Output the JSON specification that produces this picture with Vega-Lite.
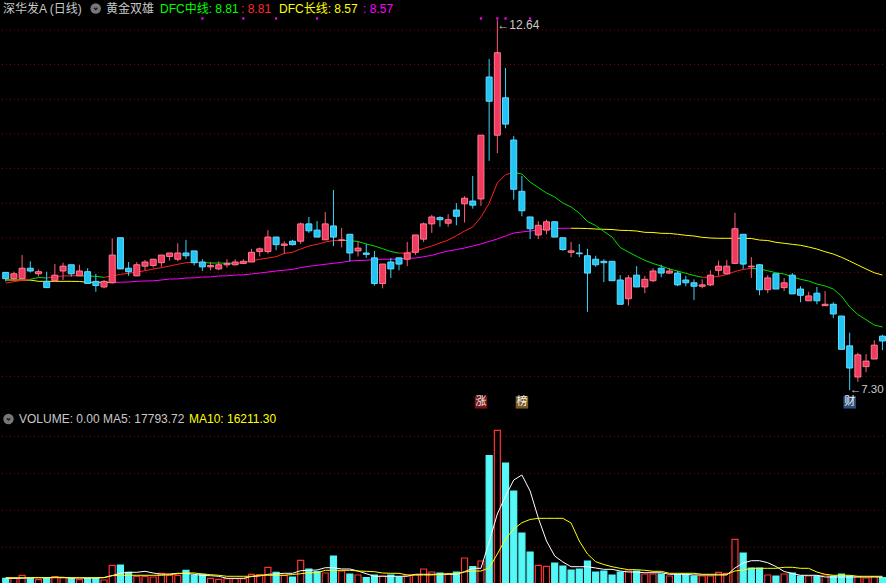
{
"$schema":"https://vega.github.io/schema/vega-lite/v6.json",
"background":"#000000",
"padding":0,
"spacing":0,
"config":{"view":{"stroke":null},"concat":{"spacing":0},"scale":{"continuousPadding":0}},
"datasets":{
"k":[
{"i":0,"o":9.00,"c":8.91,"h":9.00,"l":8.87,"v":15400,"a5":15400,"a10":17100,"mr":8.847,"mg":null,"ly":8.890,"lm":null},
{"i":1,"o":8.91,"c":8.98,"h":9.01,"l":8.88,"v":15400,"a5":15400,"a10":17100,"mr":8.865,"mg":null,"ly":8.890,"lm":null},
{"i":2,"o":8.91,"c":9.06,"h":9.25,"l":8.91,"v":23600,"a5":15400,"a10":17100,"mr":8.886,"mg":null,"ly":8.890,"lm":null},
{"i":3,"o":9.06,"c":9.02,"h":9.16,"l":9.00,"v":14400,"a5":17100,"a10":17100,"mr":8.900,"mg":8.900,"ly":8.888,"lm":null},
{"i":4,"o":8.98,"c":9.01,"h":9.04,"l":8.94,"v":11700,"a5":17100,"a10":17100,"mr":null,"mg":8.926,"ly":8.871,"lm":null},
{"i":5,"o":8.87,"c":8.78,"h":9.01,"l":8.78,"v":15400,"a5":17100,"a10":17100,"mr":8.919,"mg":8.919,"ly":8.871,"lm":null},
{"i":6,"o":8.88,"c":8.96,"h":9.12,"l":8.87,"v":19800,"a5":18200,"a10":17100,"mr":8.938,"mg":null,"ly":8.871,"lm":null},
{"i":7,"o":9.02,"c":9.09,"h":9.14,"l":8.89,"v":17100,"a5":18200,"a10":17100,"mr":8.948,"mg":null,"ly":8.871,"lm":null},
{"i":8,"o":9.11,"c":8.98,"h":9.11,"l":8.94,"v":15400,"a5":16300,"a10":17100,"mr":8.951,"mg":null,"ly":8.871,"lm":null},
{"i":9,"o":8.95,"c":9.02,"h":9.11,"l":8.95,"v":11700,"a5":16300,"a10":17100,"mr":8.952,"mg":8.952,"ly":8.869,"lm":null},
{"i":10,"o":9.01,"c":8.84,"h":9.06,"l":8.84,"v":15400,"a5":16300,"a10":17100,"mr":null,"mg":8.948,"ly":8.857,"lm":null},
{"i":11,"o":8.87,"c":8.81,"h":8.98,"l":8.72,"v":15400,"a5":16300,"a10":17100,"mr":null,"mg":8.943,"ly":8.857,"lm":null},
{"i":12,"o":8.79,"c":8.87,"h":8.89,"l":8.77,"v":10800,"a5":17600,"a10":17100,"mr":8.929,"mg":8.929,"ly":8.857,"lm":null},
{"i":13,"o":8.85,"c":9.25,"h":9.49,"l":8.84,"v":50700,"a5":23000,"a10":22500,"mr":8.948,"mg":null,"ly":8.857,"lm":8.857},
{"i":14,"o":9.50,"c":9.05,"h":9.50,"l":9.05,"v":51500,"a5":29000,"a10":23600,"mr":8.972,"mg":null,"ly":null,"lm":8.858},
{"i":15,"o":9.06,"c":9.01,"h":9.15,"l":8.95,"v":31700,"a5":31700,"a10":23600,"mr":8.987,"mg":null,"ly":null,"lm":8.861},
{"i":16,"o":8.95,"c":9.11,"h":9.15,"l":8.95,"v":20900,"a5":31700,"a10":23600,"mr":9.005,"mg":null,"ly":null,"lm":8.871},
{"i":17,"o":9.09,"c":9.15,"h":9.18,"l":9.03,"v":20900,"a5":34400,"a10":23600,"mr":9.024,"mg":null,"ly":null,"lm":8.876},
{"i":18,"o":9.10,"c":9.19,"h":9.19,"l":9.07,"v":19000,"a5":29800,"a10":23600,"mr":9.049,"mg":null,"ly":null,"lm":8.878},
{"i":19,"o":9.14,"c":9.25,"h":9.25,"l":9.08,"v":29000,"a5":26300,"a10":23600,"mr":9.068,"mg":null,"ly":null,"lm":8.890},
{"i":20,"o":9.23,"c":9.28,"h":9.28,"l":9.17,"v":23600,"a5":27100,"a10":25200,"mr":9.092,"mg":null,"ly":null,"lm":8.904},
{"i":21,"o":9.19,"c":9.28,"h":9.42,"l":9.16,"v":23600,"a5":29000,"a10":27900,"mr":9.117,"mg":null,"ly":null,"lm":8.906},
{"i":22,"o":9.28,"c":9.24,"h":9.47,"l":9.19,"v":37100,"a5":28500,"a10":29800,"mr":9.140,"mg":null,"ly":null,"lm":8.919},
{"i":23,"o":9.31,"c":9.14,"h":9.31,"l":9.10,"v":23600,"a5":26300,"a10":29800,"mr":9.143,"mg":null,"ly":null,"lm":8.921},
{"i":24,"o":9.15,"c":9.08,"h":9.19,"l":9.02,"v":26300,"a5":23000,"a10":27100,"mr":9.144,"mg":9.144,"ly":null,"lm":8.933},
{"i":25,"o":9.08,"c":9.10,"h":9.15,"l":9.03,"v":15400,"a5":22500,"a10":25200,"mr":null,"mg":9.135,"ly":null,"lm":8.935},
{"i":26,"o":9.05,"c":9.11,"h":9.16,"l":9.03,"v":12700,"a5":20900,"a10":23600,"mr":null,"mg":9.135,"ly":null,"lm":8.948},
{"i":27,"o":9.11,"c":9.13,"h":9.19,"l":9.07,"v":14400,"a5":15400,"a10":20900,"mr":null,"mg":9.134,"ly":null,"lm":8.950},
{"i":28,"o":9.11,"c":9.15,"h":9.19,"l":9.10,"v":14400,"a5":15400,"a10":20900,"mr":9.131,"mg":9.131,"ly":null,"lm":8.962},
{"i":29,"o":9.13,"c":9.16,"h":9.19,"l":9.12,"v":14400,"a5":15400,"a10":20900,"mr":9.140,"mg":null,"ly":null,"lm":8.964},
{"i":30,"o":9.15,"c":9.29,"h":9.34,"l":9.15,"v":26300,"a5":20300,"a10":20900,"mr":9.164,"mg":null,"ly":null,"lm":8.977},
{"i":31,"o":9.30,"c":9.34,"h":9.36,"l":9.23,"v":25200,"a5":21700,"a10":23600,"mr":9.189,"mg":null,"ly":null,"lm":8.991},
{"i":32,"o":9.30,"c":9.51,"h":9.61,"l":9.27,"v":45300,"a5":26300,"a10":23600,"mr":9.207,"mg":null,"ly":null,"lm":9.005},
{"i":33,"o":9.51,"c":9.40,"h":9.51,"l":9.32,"v":31700,"a5":27100,"a10":23600,"mr":9.226,"mg":null,"ly":null,"lm":9.020},
{"i":34,"o":9.39,"c":9.41,"h":9.45,"l":9.27,"v":23600,"a5":29000,"a10":23600,"mr":9.274,"mg":null,"ly":null,"lm":9.031},
{"i":35,"o":9.45,"c":9.40,"h":9.47,"l":9.39,"v":19000,"a5":29000,"a10":25700,"mr":9.290,"mg":null,"ly":null,"lm":9.044},
{"i":36,"o":9.45,"c":9.70,"h":9.72,"l":9.41,"v":64200,"a5":36000,"a10":27900,"mr":9.337,"mg":null,"ly":null,"lm":9.068},
{"i":37,"o":9.70,"c":9.60,"h":9.80,"l":9.57,"v":40700,"a5":37100,"a10":30600,"mr":9.381,"mg":null,"ly":null,"lm":9.088},
{"i":38,"o":9.61,"c":9.51,"h":9.74,"l":9.51,"v":33300,"a5":37900,"a10":30600,"mr":9.405,"mg":null,"ly":null,"lm":9.102},
{"i":39,"o":9.47,"c":9.70,"h":9.87,"l":9.47,"v":29800,"a5":44200,"a10":37100,"mr":9.438,"mg":null,"ly":null,"lm":9.117},
{"i":40,"o":9.67,"c":9.51,"h":10.19,"l":9.38,"v":75900,"a5":44200,"a10":37100,"mr":9.460,"mg":null,"ly":null,"lm":9.131},
{"i":41,"o":9.46,"c":9.47,"h":9.64,"l":9.36,"v":35200,"a5":40700,"a10":37100,"mr":9.463,"mg":9.463,"ly":null,"lm":9.145},
{"i":42,"o":9.55,"c":9.28,"h":9.55,"l":9.16,"v":27100,"a5":40700,"a10":37100,"mr":null,"mg":9.457,"ly":null,"lm":9.164},
{"i":43,"o":9.31,"c":9.35,"h":9.45,"l":9.23,"v":24400,"a5":35200,"a10":35200,"mr":null,"mg":9.446,"ly":null,"lm":9.172},
{"i":44,"o":9.28,"c":9.26,"h":9.41,"l":9.21,"v":17100,"a5":27900,"a10":34400,"mr":null,"mg":9.410,"ly":null,"lm":9.175},
{"i":45,"o":9.21,"c":8.84,"h":9.31,"l":8.81,"v":24400,"a5":20900,"a10":33300,"mr":null,"mg":9.381,"ly":null,"lm":9.186},
{"i":46,"o":8.84,"c":9.12,"h":9.12,"l":8.77,"v":21700,"a5":20900,"a10":29800,"mr":null,"mg":9.342,"ly":null,"lm":9.189},
{"i":47,"o":9.15,"c":9.05,"h":9.21,"l":8.92,"v":24400,"a5":20900,"a10":29000,"mr":null,"mg":9.301,"ly":null,"lm":9.190},
{"i":48,"o":9.21,"c":9.12,"h":9.21,"l":9.03,"v":19000,"a5":20900,"a10":29000,"mr":9.278,"mg":9.278,"ly":null,"lm":9.193},
{"i":49,"o":9.19,"c":9.28,"h":9.44,"l":9.09,"v":24400,"a5":20900,"a10":24400,"mr":9.280,"mg":null,"ly":null,"lm":9.203},
{"i":50,"o":9.29,"c":9.54,"h":9.54,"l":9.25,"v":24400,"a5":26300,"a10":24400,"mr":9.308,"mg":null,"ly":null,"lm":9.207},
{"i":51,"o":9.48,"c":9.70,"h":9.72,"l":9.44,"v":40700,"a5":26300,"a10":24400,"mr":9.345,"mg":null,"ly":null,"lm":9.226},
{"i":52,"o":9.70,"c":9.80,"h":9.83,"l":9.57,"v":32500,"a5":26300,"a10":24400,"mr":9.381,"mg":null,"ly":null,"lm":9.246},
{"i":53,"o":9.79,"c":9.76,"h":9.81,"l":9.66,"v":29800,"a5":26300,"a10":26300,"mr":9.424,"mg":null,"ly":null,"lm":9.280},
{"i":54,"o":9.71,"c":9.76,"h":9.84,"l":9.66,"v":27100,"a5":26300,"a10":27900,"mr":9.467,"mg":null,"ly":null,"lm":9.308},
{"i":55,"o":9.90,"c":9.81,"h":10.00,"l":9.68,"v":32500,"a5":26300,"a10":27900,"mr":9.529,"mg":null,"ly":null,"lm":9.330},
{"i":56,"o":9.99,"c":10.07,"h":10.10,"l":9.72,"v":70500,"a5":33300,"a10":32500,"mr":9.597,"mg":null,"ly":null,"lm":9.352},
{"i":57,"o":10.03,"c":9.97,"h":10.39,"l":9.92,"v":46900,"a5":42500,"a10":35200,"mr":9.655,"mg":null,"ly":null,"lm":9.381},
{"i":58,"o":10.06,"c":10.98,"h":10.98,"l":9.96,"v":62300,"a5":42500,"a10":35200,"mr":9.799,"mg":null,"ly":null,"lm":9.410},
{"i":59,"o":11.82,"c":11.47,"h":12.08,"l":10.61,"v":347700,"a5":113800,"a10":43400,"mr":9.997,"mg":null,"ly":null,"lm":9.446},
{"i":60,"o":10.98,"c":12.17,"h":12.64,"l":10.72,"v":416500,"a5":189700,"a10":81300,"mr":10.290,"mg":null,"ly":null,"lm":9.482},
{"i":61,"o":11.52,"c":11.14,"h":11.95,"l":11.08,"v":327900,"a5":238500,"a10":122000,"mr":10.410,"mg":null,"ly":null,"lm":9.525},
{"i":62,"o":10.91,"c":10.20,"h":10.97,"l":10.05,"v":252000,"a5":281800,"a10":149100,"mr":10.444,"mg":10.444,"ly":null,"lm":9.568},
{"i":63,"o":10.17,"c":9.89,"h":10.39,"l":9.81,"v":138200,"a5":295400,"a10":166100,"mr":null,"mg":10.420,"ly":null,"lm":9.583},
{"i":64,"o":9.80,"c":9.63,"h":9.80,"l":9.48,"v":86700,"a5":252000,"a10":174800,"mr":null,"mg":10.304,"ly":null,"lm":9.597},
{"i":65,"o":9.54,"c":9.68,"h":9.74,"l":9.48,"v":50700,"a5":178900,"a10":178000,"mr":null,"mg":10.225,"ly":null,"lm":9.612},
{"i":66,"o":9.61,"c":9.73,"h":9.76,"l":9.55,"v":48000,"a5":116500,"a10":178000,"mr":null,"mg":10.146,"ly":null,"lm":9.626},
{"i":67,"o":9.73,"c":9.51,"h":9.74,"l":9.51,"v":56900,"a5":75900,"a10":178000,"mr":null,"mg":10.088,"ly":null,"lm":9.634},
{"i":68,"o":9.50,"c":9.33,"h":9.50,"l":9.31,"v":48800,"a5":59600,"a10":178000,"mr":null,"mg":10.001,"ly":null,"lm":9.636},
{"i":69,"o":9.29,"c":9.31,"h":9.44,"l":9.22,"v":37900,"a5":46900,"a10":165300,"mr":null,"mg":9.944,"ly":9.637,"lm":9.637,"vx":1},
{"i":70,"o":9.28,"c":9.27,"h":9.41,"l":9.22,"v":40700,"a5":46900,"a10":116500,"mr":null,"mg":9.857,"ly":9.636,"lm":null},
{"i":71,"o":9.24,"c":8.99,"h":9.34,"l":8.43,"v":62300,"a5":46900,"a10":81300,"mr":null,"mg":9.734,"ly":9.633,"lm":null},
{"i":72,"o":9.19,"c":9.11,"h":9.24,"l":9.08,"v":32500,"a5":43400,"a10":60400,"mr":null,"mg":9.677,"ly":9.626,"lm":null},
{"i":73,"o":9.16,"c":9.14,"h":9.19,"l":8.86,"v":35200,"a5":39800,"a10":52800,"mr":null,"mg":9.590,"ly":9.622,"lm":null},
{"i":74,"o":9.16,"c":8.88,"h":9.16,"l":8.88,"v":24400,"a5":39800,"a10":46900,"mr":null,"mg":9.511,"ly":9.619,"lm":null},
{"i":75,"o":8.89,"c":8.54,"h":8.96,"l":8.54,"v":32500,"a5":35200,"a10":42500,"mr":null,"mg":9.359,"ly":9.607,"lm":null},
{"i":76,"o":8.62,"c":8.92,"h":8.96,"l":8.52,"v":35200,"a5":32500,"a10":38800,"mr":null,"mg":9.294,"ly":9.605,"lm":null},
{"i":77,"o":8.96,"c":8.79,"h":9.09,"l":8.79,"v":35200,"a5":32500,"a10":38800,"mr":null,"mg":9.232,"ly":9.597,"lm":null},
{"i":78,"o":8.79,"c":8.90,"h":8.95,"l":8.70,"v":27100,"a5":30600,"a10":37100,"mr":null,"mg":9.174,"ly":9.578,"lm":null},
{"i":79,"o":8.88,"c":9.02,"h":9.06,"l":8.86,"v":27100,"a5":30600,"a10":34400,"mr":null,"mg":9.128,"ly":9.576,"lm":null},
{"i":80,"o":9.06,"c":8.99,"h":9.11,"l":8.93,"v":27100,"a5":30600,"a10":34400,"mr":null,"mg":9.092,"ly":9.564,"lm":null},
{"i":81,"o":8.99,"c":9.02,"h":9.06,"l":8.98,"v":21700,"a5":26300,"a10":29000,"mr":null,"mg":9.049,"ly":9.562,"lm":null},
{"i":82,"o":8.99,"c":8.82,"h":9.02,"l":8.80,"v":26300,"a5":26300,"a10":29000,"mr":null,"mg":9.020,"ly":9.550,"lm":null},
{"i":83,"o":8.89,"c":8.85,"h":8.95,"l":8.80,"v":26300,"a5":26300,"a10":29000,"mr":null,"mg":8.987,"ly":9.535,"lm":null},
{"i":84,"o":8.85,"c":8.80,"h":8.90,"l":8.60,"v":21700,"a5":24400,"a10":29000,"mr":null,"mg":8.955,"ly":9.525,"lm":null},
{"i":85,"o":8.80,"c":8.82,"h":8.90,"l":8.77,"v":21700,"a5":24400,"a10":26300,"mr":8.929,"mg":8.929,"ly":9.506,"lm":null},
{"i":86,"o":8.82,"c":8.96,"h":9.03,"l":8.80,"v":21700,"a5":24400,"a10":26300,"mr":8.931,"mg":null,"ly":9.496,"lm":null},
{"i":87,"o":9.03,"c":9.09,"h":9.17,"l":8.95,"v":31700,"a5":24400,"a10":26300,"mr":8.941,"mg":null,"ly":9.492,"lm":null},
{"i":88,"o":8.98,"c":9.09,"h":9.18,"l":8.98,"v":29000,"a5":24400,"a10":26300,"mr":8.969,"mg":null,"ly":9.492,"lm":null},
{"i":89,"o":9.13,"c":9.63,"h":9.86,"l":9.12,"v":121100,"a5":43400,"a10":35200,"mr":9.013,"mg":null,"ly":9.491,"lm":null},
{"i":90,"o":9.55,"c":9.12,"h":9.55,"l":9.05,"v":84000,"a5":56900,"a10":37900,"mr":9.042,"mg":null,"ly":9.491,"lm":null},
{"i":91,"o":9.08,"c":9.09,"h":9.22,"l":8.92,"v":43400,"a5":63100,"a10":42500,"mr":9.059,"mg":9.059,"ly":9.489,"lm":null,"vx":1},
{"i":92,"o":9.11,"c":8.75,"h":9.12,"l":8.67,"v":43400,"a5":63100,"a10":42500,"mr":null,"mg":9.049,"ly":9.467,"lm":null},
{"i":93,"o":8.75,"c":8.92,"h":8.96,"l":8.70,"v":24400,"a5":57700,"a10":42500,"mr":null,"mg":9.024,"ly":9.460,"lm":null},
{"i":94,"o":8.98,"c":8.76,"h":8.98,"l":8.76,"v":21700,"a5":47400,"a10":42500,"mr":null,"mg":8.995,"ly":9.434,"lm":null},
{"i":95,"o":8.78,"c":8.85,"h":8.92,"l":8.73,"v":27100,"a5":33900,"a10":45300,"mr":null,"mg":8.977,"ly":9.420,"lm":null},
{"i":96,"o":8.96,"c":8.69,"h":8.99,"l":8.69,"v":29800,"a5":28500,"a10":45300,"mr":null,"mg":8.938,"ly":9.405,"lm":null},
{"i":97,"o":8.76,"c":8.67,"h":8.80,"l":8.57,"v":21700,"a5":23600,"a10":42500,"mr":null,"mg":8.900,"ly":9.391,"lm":null},
{"i":98,"o":8.59,"c":8.66,"h":8.72,"l":8.59,"v":21700,"a5":23600,"a10":42500,"mr":null,"mg":8.876,"ly":9.366,"lm":null},
{"i":99,"o":8.70,"c":8.59,"h":8.79,"l":8.54,"v":21700,"a5":23600,"a10":32500,"mr":null,"mg":8.832,"ly":9.337,"lm":null},
{"i":100,"o":8.52,"c":8.54,"h":8.73,"l":8.52,"v":24400,"a5":19000,"a10":26300,"mr":null,"mg":8.804,"ly":9.298,"lm":null},
{"i":101,"o":8.54,"c":8.40,"h":8.57,"l":8.34,"v":21700,"a5":19000,"a10":23600,"mr":null,"mg":8.760,"ly":9.265,"lm":null},
{"i":102,"o":8.37,"c":7.89,"h":8.37,"l":7.89,"v":27100,"a5":19000,"a10":23600,"mr":null,"mg":8.659,"ly":9.218,"lm":null},
{"i":103,"o":7.94,"c":7.62,"h":8.13,"l":7.30,"v":21700,"a5":19000,"a10":23600,"mr":null,"mg":8.500,"ly":9.164,"lm":null},
{"i":104,"o":7.49,"c":7.81,"h":7.84,"l":7.42,"v":19800,"a5":19000,"a10":20900,"mr":null,"mg":8.392,"ly":9.106,"lm":null},
{"i":105,"o":7.64,"c":7.72,"h":7.82,"l":7.56,"v":16300,"a5":19000,"a10":20900,"mr":null,"mg":8.317,"ly":9.049,"lm":null},
{"i":106,"o":7.75,"c":7.95,"h":8.02,"l":7.75,"v":19800,"a5":19000,"a10":20900,"mr":null,"mg":8.240,"ly":8.995,"lm":null},
{"i":107,"o":8.08,"c":8.01,"h":8.10,"l":7.88,"v":17100,"a5":19000,"a10":20900,"mr":null,"mg":8.212,"ly":8.962,"lm":null}
],
"gt":[{"g":7.5},{"g":8.0},{"g":8.5},{"g":9.0},{"g":9.5},{"g":10.0},{"g":10.5},{"g":11.0},{"g":11.5},{"g":12.0},{"g":12.5}],
"gv":[{"g":100000},{"g":200000},{"g":300000},{"g":400000}],
"sg":[{"i":24},{"i":29},{"i":33},{"i":38},{"i":58},{"i":60},{"i":61},{"i":64}],
"tt":[
{"t":"深华发A (日线)","i":-0.33,"p":12.808,"r":"a"},
{"t":"黄金双雄","i":12.24,"p":12.808,"r":"a"},
{"t":"DFC中线: 8.81","i":18.83,"p":12.808,"r":"g"},
{"t":": 8.81","i":28.72,"p":12.808,"r":"rd"},
{"t":"DFC长线: 8.57","i":33.35,"p":12.808,"r":"y"},
{"t":": 8.57","i":43.61,"p":12.808,"r":"m"},
{"t":"←12.64","i":60,"p":12.575,"r":"a"}
],
"tl":[{"t":"←7.30","i":103,"p":7.305}],
"ict":[{"i":10.98,"p":12.808}],
"bd":[{"t":"涨","i":58,"p":7.125,"r":"zh"},{"t":"榜","i":63,"p":7.125,"r":"bg"},{"t":"财","i":103,"p":7.125,"r":"cw"}],
"tv":[
{"t":"VOLUME: 0.00  MA5: 17793.72","i":1.62,"v":447150,"r":"w"},
{"t":"MA10: 16211.30","i":22.37,"v":447150,"r":"y"}
],
"icv":[{"i":0.34,"v":447150}]
},
"vconcat":[
{
"width":886,"height":408,
"layer":[
{"data":{"name":"gt"},"mark":{"type":"rule","color":"#8c0000","strokeDash":[1,3],"strokeWidth":1},
 "encoding":{"y":{"field":"g","type":"quantitative","scale":{"domain":[7.043,12.931],"nice":false,"zero":false,"padding":0},"axis":null}}},
{"data":{"name":"k"},"mark":{"type":"line","color":"#ffff00","strokeWidth":1,"invalid":"break-paths-show-domains"},
 "encoding":{"x":{"field":"i","type":"quantitative","scale":{"domain":[-0.574,107.555],"nice":false,"zero":false,"padding":0},"axis":null},
 "y":{"field":"ly","type":"quantitative","scale":{"domain":[7.043,12.931],"nice":false,"zero":false,"padding":0},"axis":null}}},
{"data":{"name":"k"},"mark":{"type":"line","color":"#ff00ff","strokeWidth":1,"invalid":"break-paths-show-domains"},
 "encoding":{"x":{"field":"i","type":"quantitative","scale":{"domain":[-0.574,107.555],"nice":false,"zero":false,"padding":0},"axis":null},
 "y":{"field":"lm","type":"quantitative","scale":{"domain":[7.043,12.931],"nice":false,"zero":false,"padding":0},"axis":null}}},
{"data":{"name":"k"},"mark":{"type":"line","color":"#ff2020","strokeWidth":1,"invalid":"break-paths-show-domains"},
 "encoding":{"x":{"field":"i","type":"quantitative","scale":{"domain":[-0.574,107.555],"nice":false,"zero":false,"padding":0},"axis":null},
 "y":{"field":"mr","type":"quantitative","scale":{"domain":[7.043,12.931],"nice":false,"zero":false,"padding":0},"axis":null}}},
{"data":{"name":"k"},"mark":{"type":"line","color":"#00e000","strokeWidth":1,"invalid":"break-paths-show-domains"},
 "encoding":{"x":{"field":"i","type":"quantitative","scale":{"domain":[-0.574,107.555],"nice":false,"zero":false,"padding":0},"axis":null},
 "y":{"field":"mg","type":"quantitative","scale":{"domain":[7.043,12.931],"nice":false,"zero":false,"padding":0},"axis":null}}},
{"data":{"name":"k"},"mark":{"type":"rule","strokeWidth":1},
 "encoding":{"x":{"field":"i","type":"quantitative","scale":{"domain":[-0.574,107.555],"nice":false,"zero":false,"padding":0},"axis":null},
 "y":{"field":"l","type":"quantitative","scale":{"domain":[7.043,12.931],"nice":false,"zero":false,"padding":0},"axis":null},
 "y2":{"field":"h"},
 "color":{"condition":{"test":"datum.c >= datum.o","value":"#ff5c7c"},"value":"#38d4ff"}}},
{"data":{"name":"k"},"mark":{"type":"bar","width":6,"strokeWidth":1},
 "encoding":{"x":{"field":"i","type":"quantitative","scale":{"domain":[-0.574,107.555],"nice":false,"zero":false,"padding":0},"axis":null},
 "y":{"field":"o","type":"quantitative","scale":{"domain":[7.043,12.931],"nice":false,"zero":false,"padding":0},"axis":null},
 "y2":{"field":"c"},
 "fill":{"condition":{"test":"datum.c >= datum.o","value":"#f23a5e"},"value":"#22c4f4"},
 "stroke":{"condition":{"test":"datum.c >= datum.o","value":"#ff7a94"},"value":"#60dcff"}}},
{"data":{"name":"sg"},"mark":{"type":"square","size":5,"color":"#ff00ff","opacity":1},
 "encoding":{"x":{"field":"i","type":"quantitative","scale":{"domain":[-0.574,107.555],"nice":false,"zero":false,"padding":0},"axis":null},
 "y":{"datum":12.664,"type":"quantitative","scale":{"domain":[7.043,12.931],"nice":false,"zero":false,"padding":0},"axis":null}}},
{"data":{"name":"ict"},"mark":{"type":"circle","size":110,"color":"#777777","opacity":1},
 "encoding":{"x":{"field":"i","type":"quantitative","scale":{"domain":[-0.574,107.555],"nice":false,"zero":false,"padding":0},"axis":null},
 "y":{"field":"p","type":"quantitative","scale":{"domain":[7.043,12.931],"nice":false,"zero":false,"padding":0},"axis":null}}},
{"data":{"name":"ict"},"mark":{"type":"point","shape":"M-0.6,-0.25L0,0.35L0.6,-0.25","size":30,"filled":false,"stroke":"#202020","strokeWidth":1.6,"opacity":1},
 "encoding":{"x":{"field":"i","type":"quantitative","scale":{"domain":[-0.574,107.555],"nice":false,"zero":false,"padding":0},"axis":null},
 "y":{"field":"p","type":"quantitative","scale":{"domain":[7.043,12.931],"nice":false,"zero":false,"padding":0},"axis":null}}},
{"data":{"name":"tt"},"mark":{"type":"text","align":"left","baseline":"middle","fontSize":12,"font":"Liberation Sans, Noto Sans CJK SC"},
 "encoding":{"x":{"field":"i","type":"quantitative","scale":{"domain":[-0.574,107.555],"nice":false,"zero":false,"padding":0},"axis":null},
 "y":{"field":"p","type":"quantitative","scale":{"domain":[7.043,12.931],"nice":false,"zero":false,"padding":0},"axis":null},
 "text":{"field":"t"},
 "color":{"field":"r","type":"nominal","legend":null,"scale":{"domain":["a","g","rd","y","m"],"range":["#c8c8c8","#00ff00","#ff2a2a","#ffff00","#ff00ff"]}}}},
{"data":{"name":"tl"},"mark":{"type":"text","align":"left","baseline":"middle","fontSize":11.5,"font":"Liberation Sans","color":"#c8c8c8"},
 "encoding":{"x":{"field":"i","type":"quantitative","scale":{"domain":[-0.574,107.555],"nice":false,"zero":false,"padding":0},"axis":null},
 "y":{"field":"p","type":"quantitative","scale":{"domain":[7.043,12.931],"nice":false,"zero":false,"padding":0},"axis":null},
 "text":{"field":"t"}}},
{"data":{"name":"bd"},"mark":{"type":"square","size":156,"opacity":1},
 "encoding":{"x":{"field":"i","type":"quantitative","scale":{"domain":[-0.574,107.555],"nice":false,"zero":false,"padding":0},"axis":null},
 "y":{"field":"p","type":"quantitative","scale":{"domain":[7.043,12.931],"nice":false,"zero":false,"padding":0},"axis":null},
 "fill":{"field":"r","type":"nominal","legend":null,"scale":{"domain":["zh","bg","cw"],"range":["#7a1414","#7a5a20","#2c4e7c"]}}}},
{"data":{"name":"bd"},"mark":{"type":"text","align":"center","baseline":"middle","fontSize":11,"font":"Noto Sans CJK SC","color":"#f0f0f0"},
 "encoding":{"x":{"field":"i","type":"quantitative","scale":{"domain":[-0.574,107.555],"nice":false,"zero":false,"padding":0},"axis":null},
 "y":{"field":"p","type":"quantitative","scale":{"domain":[7.043,12.931],"nice":false,"zero":false,"padding":0},"axis":null},
 "text":{"field":"t"}}},
{"mark":{"type":"rule","color":"#b00000","strokeWidth":1.2},
 "encoding":{"y":{"datum":7.05,"type":"quantitative","scale":{"domain":[7.043,12.931],"nice":false,"zero":false,"padding":0},"axis":null}}}
]
},
{
"width":886,"height":175,
"layer":[
{"data":{"name":"gv"},"mark":{"type":"rule","color":"#8c0000","strokeDash":[1,3],"strokeWidth":1},
 "encoding":{"y":{"field":"g","type":"quantitative","scale":{"domain":[0,474255],"nice":false,"zero":false,"padding":0},"axis":null}}},
{"data":{"name":"k"},"mark":{"type":"bar","width":6,"strokeWidth":1.2},
 "encoding":{"x":{"field":"i","type":"quantitative","scale":{"domain":[-0.574,107.555],"nice":false,"zero":false,"padding":0},"axis":null},
 "y":{"field":"v","type":"quantitative","scale":{"domain":[0,474255],"nice":false,"zero":false,"padding":0},"axis":null},
 "fill":{"condition":{"test":"datum.c >= datum.o && !datum.vx","value":"#000000"},"value":"#55f7f7"},
 "stroke":{"condition":{"test":"datum.c >= datum.o && !datum.vx","value":"#ff3030"},"value":"#55f7f7"}}},
{"data":{"name":"k"},"mark":{"type":"line","color":"#ffffff","strokeWidth":1},
 "encoding":{"x":{"field":"i","type":"quantitative","scale":{"domain":[-0.574,107.555],"nice":false,"zero":false,"padding":0},"axis":null},
 "y":{"field":"a5","type":"quantitative","scale":{"domain":[0,474255],"nice":false,"zero":false,"padding":0},"axis":null}}},
{"data":{"name":"k"},"mark":{"type":"line","color":"#ffff00","strokeWidth":1},
 "encoding":{"x":{"field":"i","type":"quantitative","scale":{"domain":[-0.574,107.555],"nice":false,"zero":false,"padding":0},"axis":null},
 "y":{"field":"a10","type":"quantitative","scale":{"domain":[0,474255],"nice":false,"zero":false,"padding":0},"axis":null}}},
{"data":{"name":"icv"},"mark":{"type":"circle","size":110,"color":"#777777","opacity":1},
 "encoding":{"x":{"field":"i","type":"quantitative","scale":{"domain":[-0.574,107.555],"nice":false,"zero":false,"padding":0},"axis":null},
 "y":{"field":"v","type":"quantitative","scale":{"domain":[0,474255],"nice":false,"zero":false,"padding":0},"axis":null}}},
{"data":{"name":"icv"},"mark":{"type":"point","shape":"M-0.6,-0.25L0,0.35L0.6,-0.25","size":30,"filled":false,"stroke":"#202020","strokeWidth":1.6,"opacity":1},
 "encoding":{"x":{"field":"i","type":"quantitative","scale":{"domain":[-0.574,107.555],"nice":false,"zero":false,"padding":0},"axis":null},
 "y":{"field":"v","type":"quantitative","scale":{"domain":[0,474255],"nice":false,"zero":false,"padding":0},"axis":null}}},
{"data":{"name":"tv"},"mark":{"type":"text","align":"left","baseline":"middle","fontSize":12,"font":"Liberation Sans, Noto Sans CJK SC"},
 "encoding":{"x":{"field":"i","type":"quantitative","scale":{"domain":[-0.574,107.555],"nice":false,"zero":false,"padding":0},"axis":null},
 "y":{"field":"v","type":"quantitative","scale":{"domain":[0,474255],"nice":false,"zero":false,"padding":0},"axis":null},
 "text":{"field":"t"},
 "color":{"field":"r","type":"nominal","legend":null,"scale":{"domain":["w","y"],"range":["#f0f0f0","#ffff00"]}}}}
]
}
]
}
